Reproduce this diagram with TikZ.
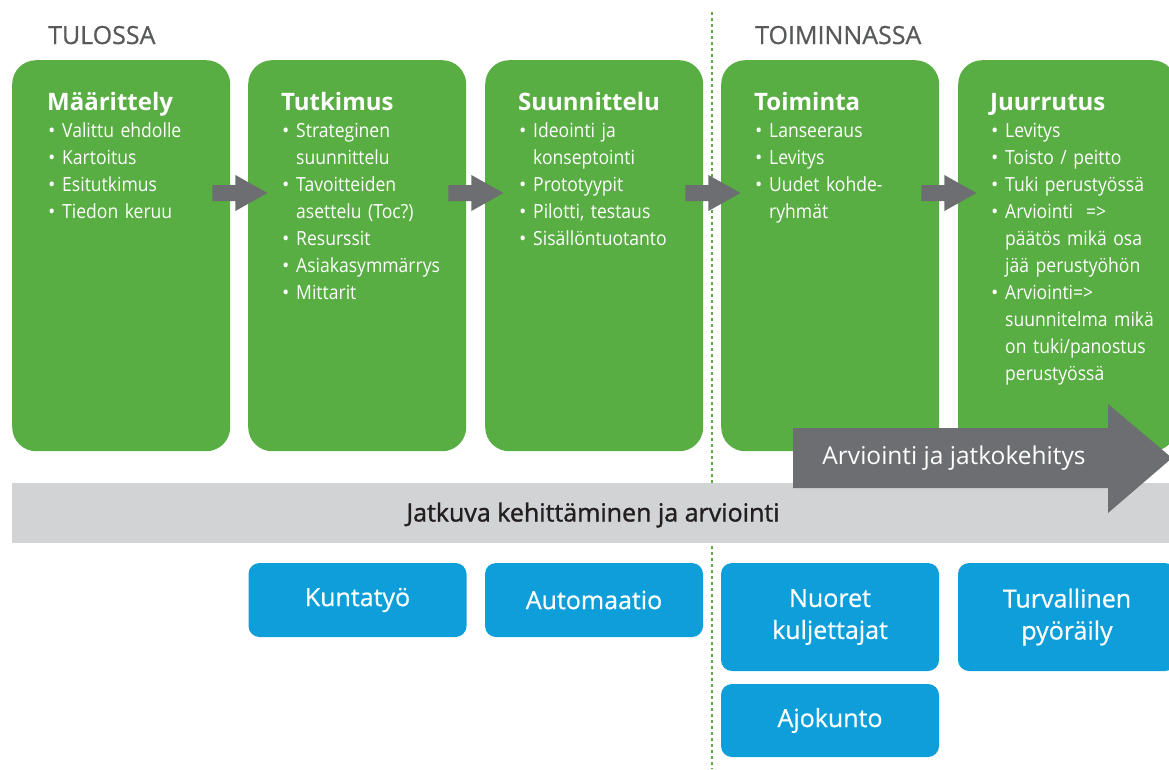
\documentclass[tikz,border=0pt]{standalone}
\usepackage{fontspec}
\setmainfont{Open Sans}
\newfontfamily\condfont{Open Sans}[FakeStretch=0.9]
\newfontfamily\midfont{Open Sans}[FakeBold=0.6]
\newfontfamily\semifont{Open Sans}[FakeBold=1.3]
\usetikzlibrary{positioning}

\definecolor{phasegreen}{RGB}{88,173,67}
\definecolor{projblue}{RGB}{14,159,218}
\definecolor{arrowgray}{RGB}{109,110,114}
\definecolor{bandgray}{RGB}{209,211,212}
\definecolor{headgray}{RGB}{88,89,91}
\definecolor{bandtext}{RGB}{35,31,32}

\tikzset{
  phase/.style={fill=phasegreen, rounded corners=24pt, minimum width=218pt,
    minimum height=391pt, inner sep=0pt, anchor=north west},
  phasetext/.style={text=white, text width=190pt, align=left, inner sep=0pt,
    anchor=base west, font=\condfont\fontsize{19.5}{27}\selectfont},
  project/.style={fill=projblue, rounded corners=11pt, minimum width=218pt,
    inner sep=0pt, text=white, align=center, font=\midfont\fontsize{25}{32}\selectfont},
  steparrow/.style={fill=arrowgray},
  heading/.style={text=headgray, anchor=base west, inner sep=0pt,
    font=\midfont\fontsize{25}{30}\selectfont},
  divider/.style={phasegreen, line width=2pt, dash pattern=on 3pt off 3pt}
}

\newcommand{\phasehead}[1]{{\normalfont\bfseries\fontsize{24}{27}\selectfont #1\par}}
\newcommand{\bitem}[1]{\noindent\hangindent=15pt\hangafter=1%
  \makebox[15pt][l]{\hspace{1pt}{\normalfont\textbullet}}#1\par}

\begin{document}
\begin{tikzpicture}[x=1pt,y=-1pt]
\useasboundingbox (0,0) rectangle (1169,769);

\coordinate (div-top) at (712,12);
\coordinate (div-bot) at (712,769);
\draw[divider] (div-top) -- (div-bot);

\path (12,483) node[fill=bandgray, anchor=north west, minimum width=1162pt,
	minimum height=60pt, inner sep=0pt] (band) {};
\path (593,515) node[text=bandtext, font=\semifont\fontsize{25}{30}\selectfont]
	(band-txt) {Jatkuva kehittäminen ja arviointi};

\path (12,60) node[phase] (maar) {};
\path (248,60) node[phase] (tutk) {};
\path (485,60) node[phase] (suun) {};
\path (721,60) node[phase] (toim) {};
\path (958,60) node[phase] (juur) {};

\path (maar.north west) ++(35,50) node[phasetext] (maar-txt) {%
	\phasehead{Määrittely}
	\bitem{Valittu ehdolle}
	\bitem{Kartoitus}
	\bitem{Esitutkimus}
	\bitem{Tiedon keruu}};
\path (tutk.north west) ++(33,50) node[phasetext] (tutk-txt) {%
	\phasehead{Tutkimus}
	\bitem{Strateginen\newline suunnittelu}
	\bitem{Tavoitteiden\newline asettelu (Toc?)}
	\bitem{Resurssit}
	\bitem{Asiakasymmärrys}
	\bitem{Mittarit}};
\path (suun.north west) ++(33,50) node[phasetext] (suun-txt) {%
	\phasehead{Suunnittelu}
	\bitem{Ideointi ja\newline konseptointi}
	\bitem{Prototyypit}
	\bitem{Pilotti, testaus}
	\bitem{Sisällöntuotanto}};
\path (toim.north west) ++(33,50) node[phasetext] (toim-txt) {%
	\phasehead{Toiminta}
	\bitem{Lanseeraus}
	\bitem{Levitys}
	\bitem{Uudet kohde-\newline ryhmät}};
\path (juur.north west) ++(32,50) node[phasetext] (juur-txt) {%
	\phasehead{Juurrutus}
	\bitem{Levitys}
	\bitem{Toisto / peitto}
	\bitem{Tuki perustyössä}
	\bitem{Arviointi\ \ =>\newline päätös mikä osa\newline jää perustyöhön}
	\bitem{Arviointi=>\newline suunnitelma mikä\newline on tuki/panostus\newline perustyössä}};

\foreach \a in {maar, tutk, suun, toim}
	\fill[steparrow, shift={(\a.north east)}] (-18,125) -- (5,125) -- (5,115) --
		(37,133) -- (5,151) -- (5,141) -- (-18,141) -- cycle;

\fill[steparrow] (793,428) -- (1108,428) -- (1108,404) -- (1172,458) --
	(1108,513) -- (1108,488) -- (793,488) -- cycle;
\path (954,458) node[text=white, font=\fontsize{24.5}{30}\selectfont] (eval-txt)
	{Arviointi ja jatkokehitys};

\path (357.5,600) node[project, minimum height=74pt] (kunta) {Kuntatyö};
\path (594,600) node[project, minimum height=74pt] (auto) {Automaatio};
\path (830,617) node[project, minimum height=108pt] (nuoret) {Nuoret\\kuljettajat};
\path (830,720.5) node[project, minimum height=73pt] (ajo) {Ajokunto};
\path (1067,617) node[project, minimum height=108pt] (pyora) {Turvallinen\\pyöräily};

\path (48,44) node[heading] (tulossa) {TULOSSA};
\path (755,44) node[heading] (toiminnassa) {TOIMINNASSA};
\end{tikzpicture}
\end{document}
